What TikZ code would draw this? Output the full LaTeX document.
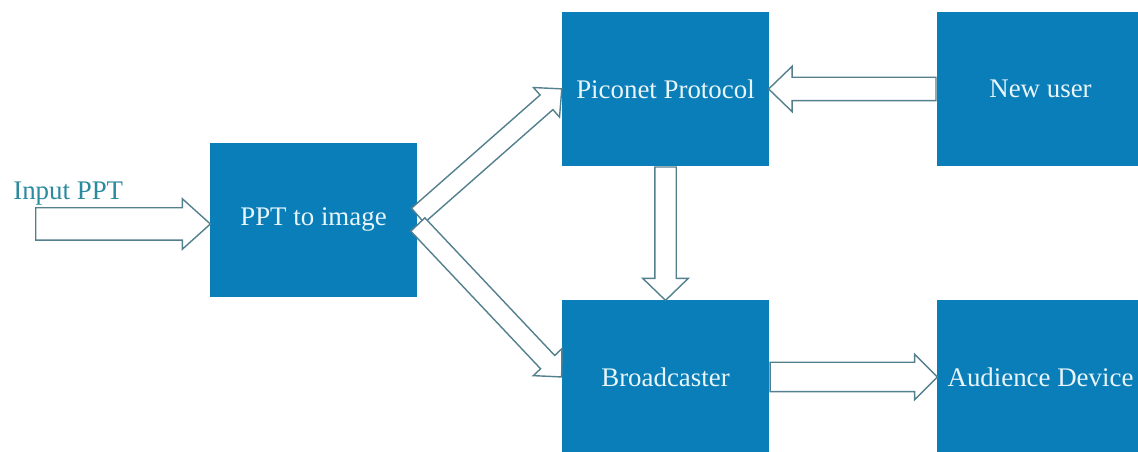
\documentclass[tikz,border=0pt]{standalone}
\usepackage{fontspec}
\setmainfont{Liberation Serif}
\newfontfamily\labelfont{Liberation Serif}
\usetikzlibrary{shapes.arrows,calc}

\definecolor{boxblue}{RGB}{10,126,184}
\definecolor{boxtext}{RGB}{232,245,250}
\definecolor{arrowline}{RGB}{84,128,142}
\definecolor{inputtext}{RGB}{42,138,158}

\tikzset{
  block/.style={fill=boxblue, text=boxtext, minimum width=4.14cm, minimum height=3.08cm,
    inner sep=0pt, font=\labelfont\fontsize{15.3}{18}\selectfont},
  fatarrow/.style={single arrow, draw=arrowline, fill=white, line width=0.8pt,
    inner xsep=0pt, inner ysep=0.2cm, single arrow head extend=0.2cm,
    single arrow tip angle=88, single arrow head indent=0pt}
}

% hollow block arrow from #2 to #3
\newcommand\blockarrow[3][]{%
  \path let \p1=(#2), \p2=(#3),
    \n1={atan2(\y2-\y1,\x2-\x1)},
    \n2={veclen(\x2-\x1,\y2-\y1)} in
    node[fatarrow, #1, anchor=tail, rotate=\n1, minimum height=\n2] at (\p1) {};}

\begin{document}
\begin{tikzpicture}[x=0.02cm, y=0.02cm]

\useasboundingbox (0,0) rectangle (1138,452);
\clip (0,0) rectangle (1138,452);

\node[block]
(ppt)
at (313.5,232)
{PPT to image};

\node[block]
(piconet)
at (665.5,363)
{Piconet Protocol};

\node[block]
(newuser)
at (1040.5,363)
{New user};

\node[block]
(broadcaster)
at (665.5,75)
{Broadcaster};

\node[block]
(audience)
at (1040.5,75)
{Audience Device};

\node[text=inputtext, font=\labelfont\fontsize{15.3}{18}\selectfont, anchor=base west, inner sep=0pt]
(input)
at (13,252)
{Input PPT};

\coordinate (inputtail) at (35,228);

\blockarrow[inner ysep=0.31cm, single arrow head extend=0.18cm, single arrow tip angle=84]
{inputtail}{$(ppt.west)+(0,-4)$}

\blockarrow[inner ysep=0.22cm, single arrow head extend=0.22cm]
{newuser.west}{piconet.east}

\blockarrow[inner ysep=0.2cm, single arrow head extend=0.24cm, single arrow tip angle=92]
{piconet.south}{broadcaster.north}

\blockarrow[inner ysep=0.28cm, single arrow head extend=0.16cm, single arrow tip angle=90]
{broadcaster.east}{audience.west}

\blockarrow[inner ysep=0.18cm]
{$(ppt.east)+(0,4)$}{piconet.west}

\blockarrow[inner ysep=0.18cm]
{$(ppt.east)+(0,-4)$}{broadcaster.west}

\end{tikzpicture}
\end{document}
